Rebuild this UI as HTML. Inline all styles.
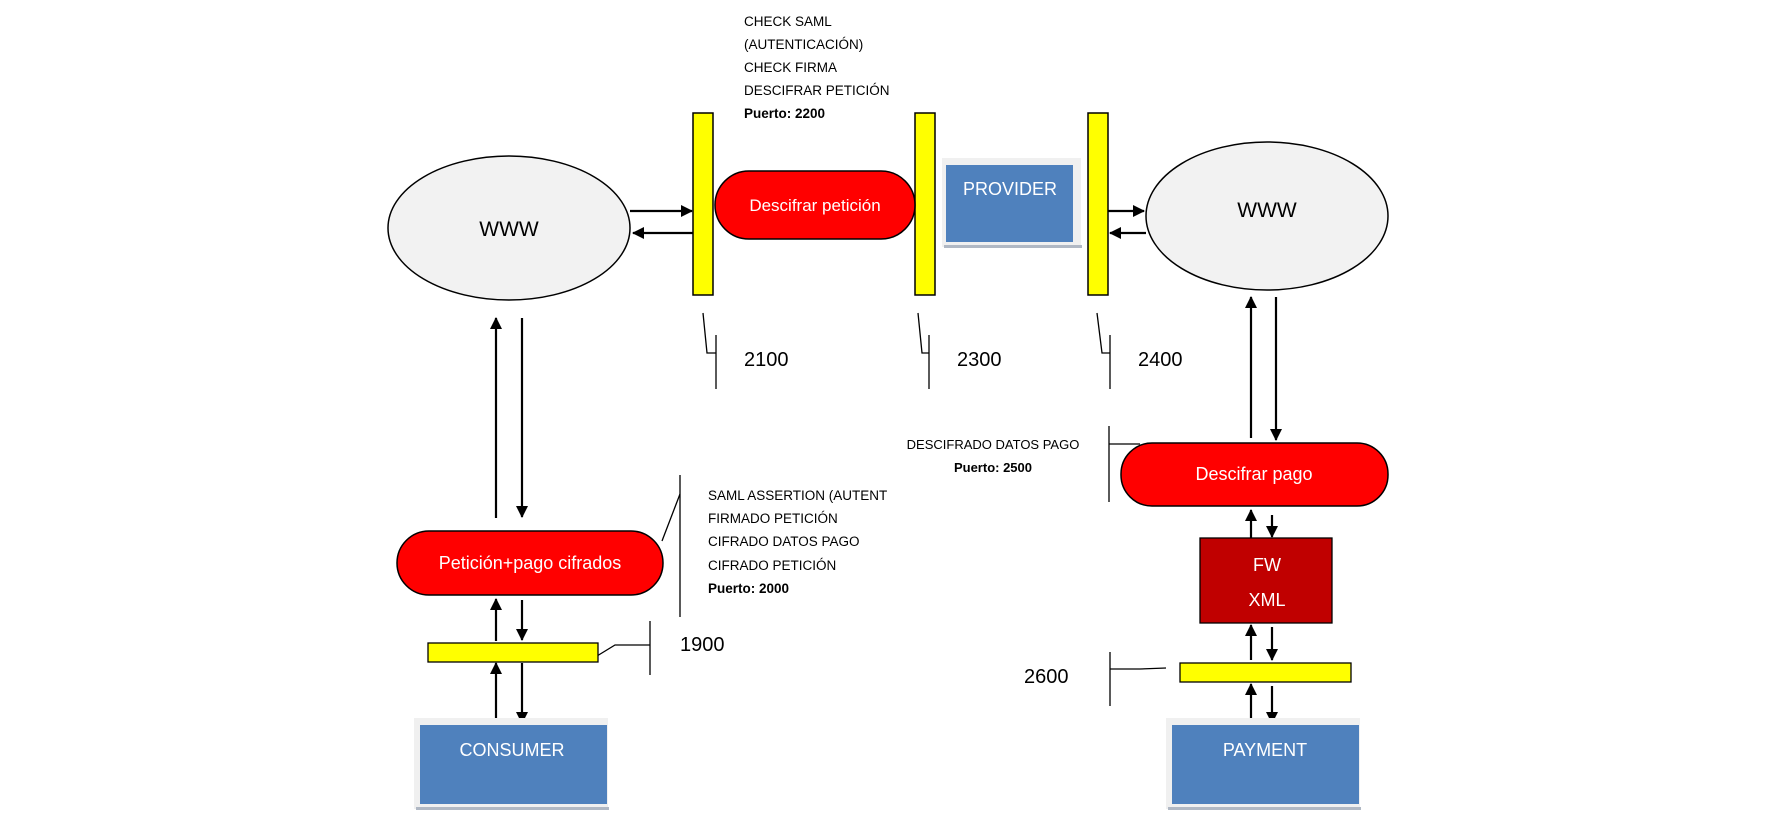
<!DOCTYPE html>
<html><head><meta charset="utf-8"><style>
html,body{margin:0;padding:0;background:#fff;}
svg{display:block;}
text{font-family:"Liberation Sans",sans-serif;}
</style></head><body>
<svg width="1788" height="827" viewBox="0 0 1788 827" xmlns="http://www.w3.org/2000/svg">
<defs>
<marker id="ah" markerWidth="12" markerHeight="12" refX="11" refY="6" orient="auto" markerUnits="userSpaceOnUse">
<path d="M0,0 L12,6 L0,12 z" fill="#000"/>
</marker>
</defs>
<g stroke="#000" stroke-width="2.2" fill="none">
<line x1="630" y1="211" x2="692" y2="211" marker-end="url(#ah)"/>
<line x1="693" y1="233" x2="633" y2="233" marker-end="url(#ah)"/>
<line x1="1108" y1="211" x2="1144" y2="211" marker-end="url(#ah)"/>
<line x1="1146" y1="233" x2="1110" y2="233" marker-end="url(#ah)"/>
<line x1="496" y1="518" x2="496" y2="318" marker-end="url(#ah)"/>
<line x1="522" y1="318" x2="522" y2="517" marker-end="url(#ah)"/>
<line x1="496" y1="641" x2="496" y2="599" marker-end="url(#ah)"/>
<line x1="522" y1="600" x2="522" y2="640" marker-end="url(#ah)"/>
<line x1="496" y1="724" x2="496" y2="663" marker-end="url(#ah)"/>
<line x1="522" y1="663" x2="522" y2="723" marker-end="url(#ah)"/>
<line x1="1251" y1="438" x2="1251" y2="297" marker-end="url(#ah)"/>
<line x1="1276" y1="297" x2="1276" y2="440" marker-end="url(#ah)"/>
<line x1="1251" y1="538" x2="1251" y2="510" marker-end="url(#ah)"/>
<line x1="1272" y1="515" x2="1272" y2="537" marker-end="url(#ah)"/>
<line x1="1251" y1="660" x2="1251" y2="625" marker-end="url(#ah)"/>
<line x1="1272" y1="627" x2="1272" y2="660" marker-end="url(#ah)"/>
<line x1="1251" y1="724" x2="1251" y2="684" marker-end="url(#ah)"/>
<line x1="1272" y1="686" x2="1272" y2="723" marker-end="url(#ah)"/>
</g>
<ellipse cx="509" cy="228" rx="121" ry="72" fill="#f2f2f2" stroke="#000" stroke-width="1.5"/>
<text x="509" y="236" font-size="21" text-anchor="middle">WWW</text>
<ellipse cx="1267" cy="216" rx="121" ry="74" fill="#f2f2f2" stroke="#000" stroke-width="1.5"/>
<text x="1267" y="217" font-size="21" text-anchor="middle">WWW</text>
<rect x="693" y="113" width="20" height="182" fill="#ffff00" stroke="#000" stroke-width="1.5"/>
<rect x="915" y="113" width="20" height="182" fill="#ffff00" stroke="#000" stroke-width="1.5"/>
<rect x="1088" y="113" width="20" height="182" fill="#ffff00" stroke="#000" stroke-width="1.5"/>
<rect x="715" y="171" width="200" height="68" rx="34" fill="#ff0000" stroke="#000" stroke-width="1.5"/>
<text x="815" y="211" font-size="17" fill="#fff" text-anchor="middle">Descifrar petición</text>
<rect x="942" y="158" width="139" height="89" fill="#f0f0f0"/>
<rect x="944" y="245" width="138" height="3" fill="#b0b8c4"/>
<rect x="946" y="165" width="127" height="77" fill="#4f81bd"/>
<text x="1010" y="195" font-size="18" fill="#fff" text-anchor="middle">PROVIDER</text>
<g font-size="13.5">
<text x="744" y="26">CHECK SAML</text>
<text x="744" y="49">(AUTENTICACIÓN)</text>
<text x="744" y="72">CHECK FIRMA</text>
<text x="744" y="95">DESCIFRAR PETICIÓN</text>
<text x="744" y="118" font-weight="bold">Puerto: 2200</text>
</g>
<g stroke="#000" stroke-width="1.3" fill="none">
<polyline points="703,313 707,353 716,353"/>
<line x1="716" y1="335" x2="716" y2="389"/>
<polyline points="918,313 922,353 929,353"/>
<line x1="929" y1="335" x2="929" y2="389"/>
<polyline points="1097,313 1102,353 1110,353"/>
<line x1="1110" y1="335" x2="1110" y2="389"/>
</g>
<g font-size="20">
<text x="744" y="366">2100</text>
<text x="957" y="366">2300</text>
<text x="1138" y="366">2400</text>
</g>
<rect x="397" y="531" width="266" height="64" rx="32" fill="#ff0000" stroke="#000" stroke-width="1.5"/>
<text x="530" y="569" font-size="18" fill="#fff" text-anchor="middle">Petición+pago cifrados</text>
<g stroke="#000" stroke-width="1.3" fill="none">
<polyline points="662,541 680,494"/>
<line x1="680" y1="475" x2="680" y2="617"/>
<polyline points="597,656 615,645 650,645"/>
<line x1="650" y1="621" x2="650" y2="675"/>
</g>
<rect x="428" y="643" width="170" height="19" fill="#ffff00" stroke="#000" stroke-width="1.3"/>
<g font-size="13.5">
<text x="708" y="500">SAML ASSERTION (AUTENT</text>
<text x="708" y="523">FIRMADO PETICIÓN</text>
<text x="708" y="546">CIFRADO DATOS PAGO</text>
<text x="708" y="570">CIFRADO PETICIÓN</text>
<text x="708" y="593" font-weight="bold">Puerto: 2000</text>
</g>
<text x="680" y="651" font-size="20">1900</text>
<rect x="414" y="718" width="194" height="91" fill="#f0f0f0"/>
<rect x="416" y="807" width="193" height="3" fill="#b0b8c4"/>
<rect x="420" y="725" width="187" height="79" fill="#4f81bd"/>
<text x="512" y="756" font-size="18" fill="#fff" text-anchor="middle">CONSUMER</text>
<rect x="1121" y="443" width="267" height="63" rx="31" fill="#ff0000" stroke="#000" stroke-width="1.5"/>
<text x="1254" y="480" font-size="18" fill="#fff" text-anchor="middle">Descifrar pago</text>
<g font-size="13" text-anchor="middle">
<text x="993" y="449">DESCIFRADO DATOS PAGO</text>
<text x="993" y="472" font-weight="bold">Puerto: 2500</text>
</g>
<g stroke="#000" stroke-width="1.3" fill="none">
<line x1="1109" y1="426" x2="1109" y2="502"/>
<line x1="1109" y1="444" x2="1140" y2="444"/>
<line x1="1110" y1="652" x2="1110" y2="706"/>
<polyline points="1110,669 1140,669 1166,668"/>
</g>
<rect x="1200" y="538" width="132" height="85" fill="#c00000" stroke="#000" stroke-width="1.3"/>
<text x="1267" y="571" font-size="18" fill="#fff" text-anchor="middle">FW</text>
<text x="1267" y="606" font-size="18" fill="#fff" text-anchor="middle">XML</text>
<rect x="1180" y="663" width="171" height="19" fill="#ffff00" stroke="#000" stroke-width="1.3"/>
<text x="1024" y="683" font-size="20">2600</text>
<rect x="1166" y="718" width="194" height="91" fill="#f0f0f0"/>
<rect x="1168" y="807" width="193" height="3" fill="#b0b8c4"/>
<rect x="1172" y="725" width="187" height="79" fill="#4f81bd"/>
<text x="1265" y="756" font-size="18" fill="#fff" text-anchor="middle">PAYMENT</text>
</svg>
</body></html>
